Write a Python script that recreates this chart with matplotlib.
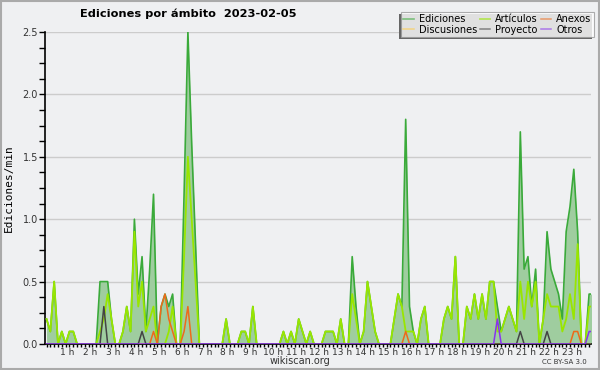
import matplotlib
matplotlib.use("Agg")
import matplotlib.pyplot as plt
import numpy as np

## Ediciones por ámbito, wikiscan, 2023-02-05 (una muestra cada 10 minutos)

horas = ["%d h" % h for h in range(1, 24)]

ediciones = [0.2, 0.1, 0.5, 0.0, 0.1, 0.0, 0.1, 0.1, 0.0, 0.0, 0.0, 0.0,
             0.0, 0.0, 0.5, 0.5, 0.5, 0.2, 0.0, 0.0, 0.1, 0.3, 0.1, 1.0,
             0.4, 0.7, 0.1, 0.6, 1.2, 0.0, 0.3, 0.4, 0.3, 0.4, 0.0, 0.0,
             1.2, 2.5, 1.6, 0.8, 0.0, 0.0, 0.0, 0.0, 0.0, 0.0, 0.0, 0.2,
             0.0, 0.0, 0.0, 0.1, 0.1, 0.0, 0.3, 0.0, 0.0, 0.0, 0.0, 0.0,
             0.0, 0.0, 0.1, 0.0, 0.1, 0.0, 0.2, 0.1, 0.0, 0.1, 0.0, 0.0,
             0.0, 0.1, 0.1, 0.1, 0.0, 0.2, 0.0, 0.0, 0.7, 0.3, 0.0, 0.1,
             0.5, 0.3, 0.1, 0.0, 0.0, 0.0, 0.0, 0.2, 0.4, 0.3, 1.8, 0.3,
             0.1, 0.0, 0.2, 0.3, 0.0, 0.0, 0.0, 0.0, 0.2, 0.3, 0.2, 0.7,
             0.0, 0.0, 0.3, 0.2, 0.4, 0.2, 0.4, 0.2, 0.5, 0.5, 0.3, 0.1,
             0.2, 0.3, 0.2, 0.1, 1.7, 0.6, 0.7, 0.3, 0.6, 0.0, 0.2, 0.9,
             0.6, 0.5, 0.4, 0.2, 0.9, 1.1, 1.4, 0.9, 0.0, 0.0, 0.4, 0.4]

articulos = [0.2, 0.1, 0.5, 0.0, 0.1, 0.0, 0.1, 0.1, 0.0, 0.0, 0.0, 0.0,
             0.0, 0.0, 0.1, 0.2, 0.4, 0.2, 0.0, 0.0, 0.1, 0.3, 0.1, 0.9,
             0.3, 0.5, 0.1, 0.2, 0.3, 0.0, 0.0, 0.0, 0.1, 0.3, 0.0, 0.0,
             0.7, 1.5, 1.0, 0.5, 0.0, 0.0, 0.0, 0.0, 0.0, 0.0, 0.0, 0.2,
             0.0, 0.0, 0.0, 0.1, 0.1, 0.0, 0.3, 0.0, 0.0, 0.0, 0.0, 0.0,
             0.0, 0.0, 0.1, 0.0, 0.1, 0.0, 0.2, 0.1, 0.0, 0.1, 0.0, 0.0,
             0.0, 0.1, 0.1, 0.1, 0.0, 0.2, 0.0, 0.0, 0.4, 0.2, 0.0, 0.1,
             0.5, 0.3, 0.1, 0.0, 0.0, 0.0, 0.0, 0.2, 0.4, 0.3, 0.1, 0.1,
             0.1, 0.0, 0.2, 0.3, 0.0, 0.0, 0.0, 0.0, 0.2, 0.3, 0.2, 0.7,
             0.0, 0.0, 0.3, 0.2, 0.4, 0.2, 0.4, 0.2, 0.5, 0.5, 0.1, 0.1,
             0.2, 0.3, 0.2, 0.1, 0.5, 0.2, 0.5, 0.3, 0.5, 0.0, 0.2, 0.4,
             0.3, 0.3, 0.3, 0.1, 0.2, 0.4, 0.2, 0.8, 0.0, 0.0, 0.3, 0.3]

# series casi vacias: solo los puntos distintos de cero (indice: valor)
anexos_pts = {28: 0.1, 30: 0.3, 31: 0.4, 32: 0.2, 33: 0.1, 36: 0.1, 37: 0.3,
              94: 0.1, 138: 0.1, 139: 0.1}
discusiones_pts = {}
proyecto_pts = {15: 0.3, 25: 0.1, 124: 0.1, 131: 0.1}
otros_pts = {118: 0.2, 142: 0.1, 143: 0.1}

n = len(ediciones)
x = np.arange(n)


def serie(pts):
    s = np.zeros(n)
    for k, v in pts.items():
        s[k] = v
    return s


anexos = serie(anexos_pts)
discusiones = serie(discusiones_pts)
proyecto = serie(proyecto_pts)
otros = serie(otros_pts)

fondo = "#eff0f2"
fig = plt.figure(figsize=(6, 3.7), dpi=100, facecolor=fondo)
ax = fig.add_axes([0.075, 0.0703, 0.91, 0.8432])
ax.set_facecolor(fondo)

ax.fill_between(x, 0, ediciones, color="#9fcd9f", lw=0, zorder=2)
l_ed, = ax.plot(x, ediciones, color="#3aaa3a", lw=1.2, zorder=3, label="Ediciones")
l_ar, = ax.plot(x, articulos, color="#99e600", lw=1.3, zorder=4, label="Artículos")
l_an, = ax.plot(x, anexos, color="#ee6a1a", lw=1.1, zorder=5, label="Anexos")
l_di, = ax.plot(x, discusiones, color="#ffcc44", lw=1.1, zorder=5, label="Discusiones")
l_pr, = ax.plot(x, proyecto, color="#444444", lw=1.1, zorder=5, label="Proyecto")
l_ot, = ax.plot(x, otros, color="#8833ee", lw=1.1, zorder=5, label="Otros")

ax.set_xlim(-0.4, 142.5)
ax.set_ylim(0, 2.5)

for s in ["top", "right"]:
    ax.spines[s].set_visible(False)
ax.spines["left"].set_linewidth(1.2)
ax.spines["bottom"].set_linewidth(1.2)

ax.set_yticks(np.arange(0, 2.51, 0.5))
ax.set_yticklabels(["%.1f" % v for v in np.arange(0, 2.51, 0.5)], fontsize=7, color="#333333")
ax.set_yticks(np.arange(0, 2.51, 0.125), minor=True)
ax.yaxis.grid(True, color="#cccccc", lw=1, zorder=0)
ax.tick_params(axis="y", which="both", length=4, width=1, pad=1)

ax.set_xticks(np.arange(0, 143))
ax.set_xticklabels([])
ax.tick_params(axis="x", which="major", length=2.2, width=1)
for h, lab in enumerate(horas, start=1):
    ax.text(6 * h - 0.6, -0.026, lab, ha="center", va="center", fontsize=6.5,
            color="#333333", transform=ax.get_xaxis_transform())

ax.set_ylabel("Ediciones/min", fontsize=8, labelpad=6, family="DejaVu Sans Mono")

fig.text(0.313, 0.962, "Ediciones por ámbito  2023-02-05", fontsize=8.2,
         fontweight="bold", ha="center", va="center")
fig.text(0.5, 0.025, "wikiscan.org", fontsize=7, ha="center", va="center", color="#333333")
fig.text(0.978, 0.022, "CC BY-SA 3.0", fontsize=5, ha="right", va="center", color="#333333")

# orden por columnas: Ediciones/Discusiones, Artículos/Proyecto, Anexos/Otros
handles = [l_ed, l_di, l_ar, l_pr, l_an, l_ot]
leg = fig.legend(handles, [h.get_label() for h in handles], loc="upper right",
                 bbox_to_anchor=(0.99, 0.968), borderaxespad=0, ncol=3, fontsize=7,
                 frameon=True, shadow=False, fancybox=False, handlelength=1.1,
                 columnspacing=0.3, handletextpad=0.5, labelspacing=0.05,
                 borderpad=0.25, edgecolor="#999999")
leg.get_frame().set_facecolor("white")
leg.get_frame().set_linewidth(0.8)
for line in leg.get_lines():
    line.set_alpha(0.6)

# sombra de la leyenda, desplazada hacia la izquierda y abajo
fig.canvas.draw()
bb = leg.get_window_extent().transformed(fig.transFigure.inverted())
fig.patches.append(plt.Rectangle((bb.x0 - 2 / 600, bb.y0 - 2 / 370), bb.width, bb.height,
                                 transform=fig.transFigure, facecolor="#666666",
                                 edgecolor="none", zorder=leg.get_zorder() - 1))

fig.patches.append(plt.Rectangle((0.002, 0.003), 0.996, 0.994, transform=fig.transFigure,
                                 fill=False, edgecolor="#aaaaaa", lw=1.5))

fig.savefig("out.png", dpi=100, facecolor=fondo)
